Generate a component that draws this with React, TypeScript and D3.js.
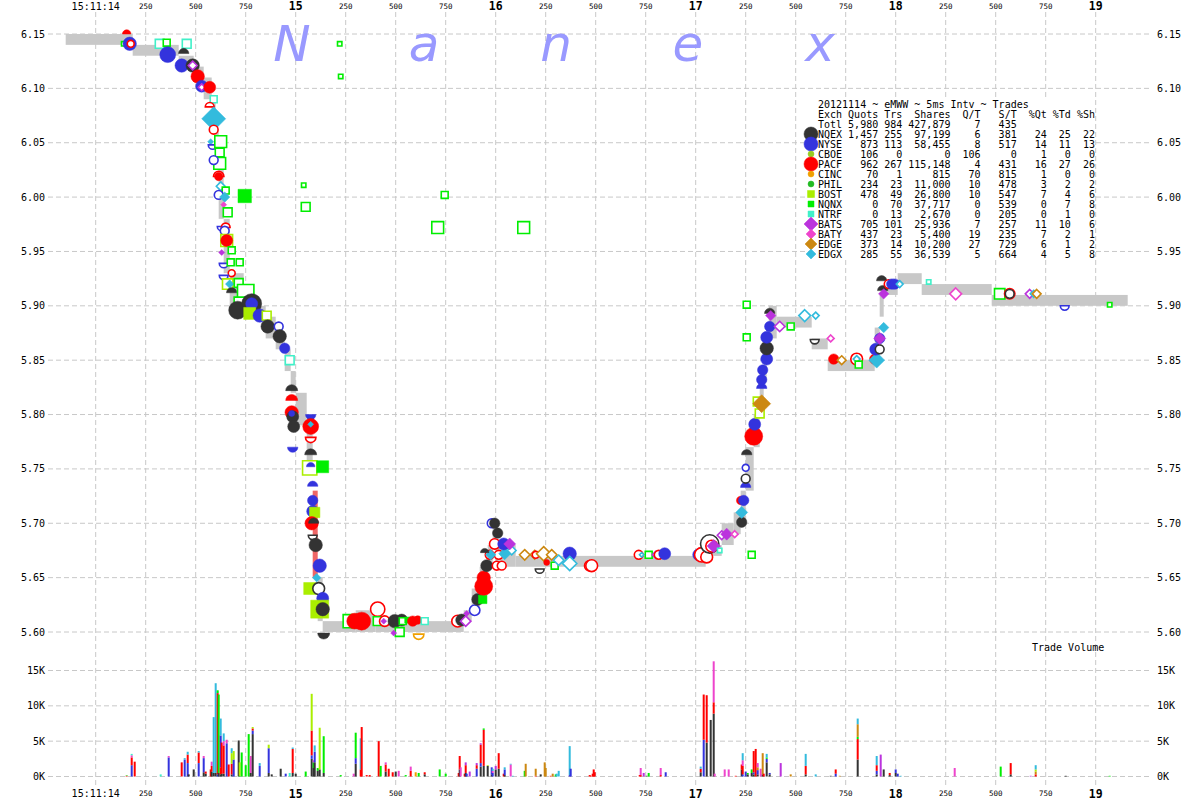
import * as d3 from 'd3'

// exchanges, in legend order
const exchanges = ['NQEX', 'NYSE', 'CBOE', 'PACF', 'CINC', 'PHIL', 'BOST', 'NQNX', 'NTRF', 'BATS', 'BATY', 'EDGE', 'EDGX']
const exchangeColors = ['#333333', '#3333dd', '#99cc22', '#ff0000', '#f0a000', '#22bb22', '#aaee00', '#00ee00', '#40f0c8', '#bb33dd', '#ee44cc', '#cc8811', '#33bbdd']
const exchangeShapes = ['circle', 'circle', 'dot', 'circle', 'dot', 'dot', 'square', 'square', 'square', 'diamond', 'diamond', 'diamond', 'diamond']
const legendMarkSize = [7, 7, 3, 7, 3, 3, 3.5, 3, 3, 7, 5, 6, 5]

// legend table
const legendQuotes = [1457, 873, 106, 962, 70, 234, 478, 0, 0, 705, 437, 373, 285]
const legendTrades = [255, 113, 0, 267, 1, 23, 49, 70, 13, 101, 23, 14, 55]
const legendShares = [97199, 58455, 0, 115148, 815, 11000, 26800, 37717, 2670, 25936, 5400, 10200, 36539]
const legendQT = [6, 8, 106, 4, 70, 10, 10, 0, 0, 7, 19, 27, 5]
const legendST = [381, 517, 0, 431, 815, 478, 547, 539, 205, 257, 235, 729, 664]
const legendPctQ = [24, 14, 1, 16, 1, 3, 7, 0, 0, 11, 7, 6, 4]
const legendPctT = [25, 11, 0, 27, 0, 2, 4, 7, 1, 10, 2, 1, 5]
const legendPctS = [22, 13, 0, 26, 0, 2, 6, 8, 0, 6, 1, 2, 8]
const totals = { quotes: 5980, trades: 984, shares: 427879, qt: 7, st: 435 }

// time axis: ms after 15:11:14.000
const timeTicks = d3.range(0, 5001, 250)

// NBBO spread steps: [ms, bid, ask]
const nbbo: [number, number, number][] = [
  [-150, 6.14, 6.15], [185, 6.13, 6.14], [415, 6.12, 6.13], [490, 6.11, 6.12], [540, 6.09, 6.11],
  [580, 6.07, 6.09], [600, 6.03, 6.06], [615, 5.98, 6.03], [640, 5.93, 5.98], [670, 5.9, 5.93],
  [740, 5.89, 5.9], [850, 5.87, 5.89], [900, 5.86, 5.87], [945, 5.84, 5.86], [975, 5.82, 5.84],
  [1000, 5.79, 5.82], [1055, 5.75, 5.79], [1085, 5.65, 5.73], [1110, 5.61, 5.65], [1135, 5.6, 5.61],
  [1300, 5.6, 5.62], [1400, 5.6, 5.61], [1840, 5.61, 5.62], [1880, 5.62, 5.64], [1920, 5.64, 5.66],
  [1960, 5.66, 5.68], [1985, 5.68, 5.7], [2000, 5.66, 5.68], [2100, 5.66, 5.67], [3050, 5.67, 5.68],
  [3130, 5.68, 5.7], [3190, 5.69, 5.71], [3225, 5.7, 5.73], [3250, 5.73, 5.77], [3290, 5.77, 5.8],
  [3320, 5.8, 5.83], [3340, 5.83, 5.86], [3355, 5.86, 5.87], [3365, 5.87, 5.9], [3405, 5.88, 5.89],
  [3580, 5.86, 5.87], [3660, 5.84, 5.85], [3895, 5.85, 5.88], [3920, 5.89, 5.91], [3940, 5.91, 5.92],
  [4010, 5.92, 5.93], [4130, 5.91, 5.92], [4480, 5.9, 5.91], [5160, 5.9, 5.91],
]
const crossedFrom = 1085

// trades: [exchange, ms, price, shares, condition]
// f filled, o hollow, u/U top half, d/D bottom half (upper case hollow)
const trades: [string, number, number, number, string][] = [
  ['PACF', 155, 6.15, 200, 'u'], ['NQNX', 140, 6.141, 100, 'o'], ['NYSE', 170, 6.141, 500, 'f'], ['PACF', 175, 6.141, 200, 'o'],
  ['NTRF', 320, 6.141, 300, 'o'], ['NQNX', 355, 6.142, 200, 'o'], ['NTRF', 455, 6.141, 300, 'o'], ['NYSE', 360, 6.131, 700, 'f'],
  ['NQEX', 440, 6.132, 300, 'u'], ['NYSE', 430, 6.121, 500, 'f'], ['NQEX', 485, 6.121, 500, 'f'], ['BATS', 485, 6.121, 300, 'o'],
  ['PACF', 510, 6.111, 500, 'f'], ['NYSE', 530, 6.102, 400, 'f'], ['BATS', 530, 6.101, 200, 'o'], ['PACF', 570, 6.101, 400, 'f'],
  ['NTRF', 590, 6.09, 200, 'o'], ['PACF', 570, 6.083, 300, 'U'], ['EDGX', 590, 6.072, 1600, 'f'], ['PACF', 590, 6.062, 300, 'o'],
  ['EDGX', 575, 6.051, 100, 'f'], ['NYSE', 585, 6.048, 300, 'D'], ['NQNX', 625, 6.051, 500, 'o'], ['NQNX', 620, 6.041, 300, 'o'],
  ['NQNX', 620, 6.031, 500, 'o'], ['NYSE', 590, 6.034, 300, 'o'], ['PACF', 615, 6.019, 400, 'U'], ['PACF', 615, 6.019, 200, 'f'],
  ['EDGX', 625, 6.01, 300, 'o'], ['NQNX', 650, 6.006, 200, 'o'], ['NYSE', 615, 6.002, 300, 'o'], ['EDGX', 645, 6.0, 300, 'f'],
  ['BATY', 640, 5.993, 100, 'f'], ['NQNX', 745, 6.001, 500, 'f'], ['NQNX', 660, 5.986, 300, 'o'], ['NYSE', 630, 5.973, 300, 'D'],
  ['PACF', 650, 5.972, 300, 'U'], ['NYSE', 645, 5.969, 300, 'o'], ['BOST', 655, 5.96, 500, 'o'], ['PACF', 655, 5.96, 400, 'f'],
  ['BATS', 630, 5.949, 100, 'f'], ['NQNX', 680, 5.951, 200, 'o'], ['NYSE', 640, 5.939, 300, 'D'], ['NQNX', 675, 5.94, 200, 'o'],
  ['NQNX', 720, 5.94, 200, 'o'], ['PACF', 680, 5.93, 200, 'o'], ['NYSE', 640, 5.928, 300, 'D'], ['BOST', 660, 5.92, 400, 'o'],
  ['EDGX', 670, 5.92, 200, 'f'], ['NQNX', 715, 5.921, 300, 'o'], ['NQEX', 680, 5.912, 300, 'u'], ['NQNX', 750, 5.912, 900, 'o'],
  ['NQNX', 725, 5.902, 600, 'o'], ['NQEX', 710, 5.896, 900, 'f'], ['NQEX', 780, 5.902, 1100, 'f'], ['NYSE', 780, 5.902, 400, 'f'],
  ['BOST', 770, 5.893, 400, 'f'], ['NYSE', 820, 5.891, 500, 'f'], ['BOST', 855, 5.891, 300, 'o'], ['NQEX', 860, 5.881, 500, 'f'],
  ['NYSE', 915, 5.881, 300, 'o'], ['NQEX', 920, 5.872, 500, 'f'], ['NYSE', 945, 5.861, 300, 'f'], ['NTRF', 970, 5.85, 300, 'o'],
  ['NQEX', 980, 5.822, 400, 'u'], ['PACF', 980, 5.813, 400, 'u'], ['PACF', 980, 5.802, 500, 'f'], ['NQEX', 985, 5.798, 400, 'f'],
  ['NYSE', 980, 5.801, 100, 'f'], ['NQEX', 990, 5.789, 400, 'f'], ['NYSE', 1075, 5.8, 300, 'd'], ['PACF', 1075, 5.789, 700, 'f'],
  ['EDGX', 1075, 5.791, 100, 'f'], ['PACF', 1075, 5.779, 400, 'D'], ['NYSE', 985, 5.77, 300, 'd'], ['NQEX', 1075, 5.763, 400, 'u'],
  ['BOST', 1070, 5.751, 700, 'o'], ['NYSE', 1075, 5.752, 200, 'u'], ['NQNX', 1135, 5.752, 400, 'f'], ['NYSE', 1085, 5.734, 300, 'u'],
  ['NYSE', 1085, 5.721, 300, 'f'], ['NYSE', 1085, 5.711, 400, 'f'], ['BOST', 1095, 5.71, 300, 'f'], ['PACF', 1080, 5.7, 500, 'f'],
  ['NQEX', 1090, 5.7, 300, 'u'], ['NQEX', 1085, 5.689, 300, 'D'], ['NQEX', 1100, 5.68, 500, 'f'], ['NYSE', 1120, 5.661, 500, 'f'],
  ['EDGX', 1105, 5.65, 200, 'f'], ['BOST', 1070, 5.64, 400, 'f'], ['NQEX', 1115, 5.64, 500, 'o'], ['NYSE', 1135, 5.631, 400, 'f'],
  ['BOST', 1120, 5.621, 900, 'f'], ['NQEX', 1135, 5.621, 500, 'f'], ['NQEX', 1140, 5.599, 400, 'd'], ['NQNX', 1270, 5.61, 600, 'o'],
  ['PACF', 1295, 5.61, 700, 'f'], ['PACF', 1330, 5.61, 900, 'f'], ['PACF', 1410, 5.621, 700, 'o'], ['NQNX', 1410, 5.61, 300, 'o'],
  ['PACF', 1445, 5.61, 400, 'o'], ['BATS', 1440, 5.61, 100, 'f'], ['NQEX', 1495, 5.61, 500, 'f'], ['NQEX', 1530, 5.611, 400, 'f'],
  ['NQNX', 1535, 5.61, 200, 'o'], ['NQNX', 1560, 5.611, 100, 'f'], ['PACF', 1585, 5.61, 300, 'f'], ['PACF', 1610, 5.611, 200, 'f'],
  ['NTRF', 1645, 5.61, 200, 'o'], ['NQNX', 1520, 5.6, 300, 'o'], ['CINC', 1615, 5.598, 400, 'D'], ['BATS', 1490, 5.599, 100, 'f'],
  ['PACF', 1810, 5.61, 500, 'o'], ['NQEX', 1830, 5.611, 400, 'f'], ['BATS', 1850, 5.61, 400, 'o'], ['NYSE', 1895, 5.62, 400, 'o'],
  ['BATS', 1855, 5.617, 100, 'f'], ['NQEX', 1910, 5.63, 400, 'f'], ['NQNX', 1935, 5.63, 200, 'f'], ['PACF', 1940, 5.642, 900, 'f'],
  ['PACF', 1940, 5.65, 500, 'f'], ['NQEX', 1955, 5.661, 400, 'f'], ['PACF', 2005, 5.661, 300, 'o'], ['PACF', 2030, 5.661, 300, 'o'],
  ['PACF', 1970, 5.671, 300, 'o'], ['PACF', 2015, 5.671, 300, 'o'], ['EDGX', 1975, 5.671, 300, 'f'], ['EDGX', 2045, 5.672, 400, 'f'],
  ['EDGX', 2080, 5.675, 300, 'o'], ['NQEX', 1945, 5.673, 200, 'u'], ['PACF', 1995, 5.681, 400, 'o'], ['NYSE', 2040, 5.681, 400, 'f'],
  ['BATS', 2070, 5.681, 400, 'f'], ['NQEX', 2010, 5.691, 300, 'f'], ['NYSE', 1980, 5.7, 300, 'o'], ['NQEX', 1995, 5.7, 300, 'f'],
  ['EDGE', 2145, 5.671, 400, 'o'], ['EDGE', 2195, 5.671, 300, 'o'], ['PACF', 2200, 5.671, 200, 'o'], ['EDGE', 2240, 5.672, 700, 'o'],
  ['EDGE', 2280, 5.671, 400, 'o'], ['NQEX', 2220, 5.658, 300, 'D'], ['PACF', 2255, 5.664, 100, 'f'], ['NQNX', 2295, 5.661, 200, 'o'],
  ['EDGX', 2315, 5.666, 400, 'o'], ['NYSE', 2370, 5.672, 500, 'f'], ['EDGX', 2370, 5.663, 700, 'o'], ['PACF', 2470, 5.661, 400, 'o'],
  ['PACF', 2480, 5.661, 500, 'o'], ['PACF', 2715, 5.671, 300, 'o'], ['EDGX', 2730, 5.671, 100, 'o'], ['NQNX', 2765, 5.671, 200, 'o'],
  ['BATS', 2800, 5.671, 200, 'o'], ['PACF', 2815, 5.671, 300, 'o'], ['NYSE', 2845, 5.672, 400, 'f'], ['NYSE', 3015, 5.671, 400, 'f'],
  ['PACF', 3020, 5.672, 300, 'f'], ['PACF', 3030, 5.671, 700, 'o'], ['PACF', 3055, 5.669, 500, 'o'], ['NQEX', 3070, 5.681, 1100, 'o'],
  ['PACF', 3080, 5.679, 500, 'o'], ['BATS', 3090, 5.679, 500, 'f'], ['NTRF', 3120, 5.675, 100, 'o'], ['BATS', 3130, 5.689, 300, 'o'],
  ['BATS', 3155, 5.69, 400, 'f'], ['BATY', 3195, 5.69, 200, 'o'], ['NQEX', 3230, 5.701, 300, 'f'], ['EDGX', 3230, 5.71, 400, 'f'],
  ['NQNX', 3280, 5.671, 200, 'o'], ['PACF', 3225, 5.721, 200, 'f'], ['NYSE', 3240, 5.721, 300, 'f'], ['NYSE', 3250, 5.733, 300, 'u'],
  ['NQEX', 3250, 5.741, 300, 'o'], ['NYSE', 3250, 5.751, 200, 'o'], ['NQEX', 3255, 5.763, 300, 'u'], ['PACF', 3290, 5.78, 900, 'f'],
  ['NYSE', 3295, 5.791, 400, 'f'], ['BOST', 3310, 5.812, 300, 'o'], ['BOST', 3320, 5.801, 300, 'o'], ['EDGE', 3330, 5.81, 900, 'f'],
  ['NYSE', 3330, 5.824, 300, 'u'], ['NYSE', 3330, 5.832, 300, 'f'], ['NYSE', 3335, 5.841, 300, 'f'], ['NYSE', 3355, 5.851, 400, 'f'],
  ['NQEX', 3355, 5.861, 500, 'f'], ['NYSE', 3355, 5.871, 400, 'f'], ['NYSE', 3370, 5.881, 300, 'f'], ['BATS', 3420, 5.881, 400, 'o'],
  ['NQNX', 3475, 5.881, 200, 'o'], ['NQEX', 3370, 5.893, 300, 'u'], ['BATS', 3375, 5.891, 300, 'f'], ['NQNX', 3255, 5.901, 200, 'o'],
  ['NQNX', 3255, 5.871, 200, 'o'], ['EDGX', 3545, 5.891, 500, 'o'], ['EDGX', 3600, 5.891, 200, 'o'], ['NQEX', 3595, 5.869, 300, 'D'],
  ['BATY', 3675, 5.87, 200, 'o'], ['PACF', 3690, 5.851, 300, 'f'], ['EDGE', 3730, 5.85, 300, 'o'], ['PACF', 3805, 5.851, 500, 'o'],
  ['EDGX', 3805, 5.851, 200, 'o'], ['NQNX', 3815, 5.846, 200, 'o'], ['PACF', 3895, 5.851, 300, 'f'], ['EDGX', 3905, 5.85, 700, 'f'],
  ['NYSE', 3900, 5.86, 400, 'f'], ['NQEX', 3920, 5.86, 300, 'o'], ['NYSE', 3920, 5.87, 300, 'f'], ['BATS', 3920, 5.87, 400, 'f'],
  ['EDGX', 3940, 5.88, 300, 'f'], ['NQEX', 3935, 5.914, 300, 'u'], ['BATS', 3940, 5.911, 300, 'f'], ['NQEX', 3930, 5.923, 300, 'u'],
  ['PACF', 3965, 5.92, 300, 'o'], ['NYSE', 3980, 5.92, 300, 'f'], ['NYSE', 3995, 5.92, 300, 'f'], ['EDGX', 4020, 5.92, 200, 'o'],
  ['NTRF', 4165, 5.922, 100, 'o'], ['BATY', 4300, 5.911, 500, 'o'], ['NQNX', 4520, 5.911, 400, 'o'], ['PACF', 4570, 5.911, 400, 'o'],
  ['NQEX', 4570, 5.911, 300, 'o'], ['BATS', 4670, 5.911, 300, 'o'], ['EDGX', 4690, 5.911, 200, 'o'], ['EDGE', 4705, 5.911, 300, 'o'],
  ['NYSE', 4845, 5.9, 300, 'D'], ['NQNX', 5070, 5.901, 100, 'o'], ['NQNX', 1220, 6.141, 100, 'o'], ['NQNX', 1225, 6.111, 100, 'o'],
  ['NQNX', 1040, 6.011, 100, 'o'], ['NQNX', 1050, 5.991, 300, 'o'], ['NQNX', 1745, 6.002, 200, 'o'], ['NQNX', 1710, 5.972, 500, 'o'],
  ['NQNX', 2140, 5.972, 500, 'o'],
]

// trade volume per 5ms interval: [ms, exchange, shares]
const volumeRows: [number, string, number][] = [
  [155, 'PACF', 100], [155, 'NQNX', 50], [180, 'NYSE', 1600], [180, 'PACF', 1100], [180, 'BATY', 300], [180, 'NTRF', 200],
  [195, 'PACF', 2100], [325, 'NTRF', 300], [365, 'NYSE', 2700], [365, 'BATY', 200], [430, 'PACF', 2000], [445, 'NYSE', 2400],
  [445, 'EDGX', 200], [460, 'NYSE', 1900], [460, 'PACF', 1200], [460, 'EDGX', 400], [465, 'NQEX', 300], [490, 'NQEX', 1000],
  [515, 'NYSE', 1900], [515, 'PACF', 1500], [515, 'EDGX', 200], [540, 'NQEX', 600], [540, 'NYSE', 2000], [540, 'BATY', 300],
  [550, 'NQEX', 400], [550, 'PACF', 300], [575, 'PACF', 1000], [580, 'NQEX', 700], [580, 'PACF', 800], [580, 'BATY', 600],
  [590, 'NQEX', 500], [590, 'EDGX', 7900], [600, 'NQEX', 500], [600, 'EDGX', 12700], [610, 'NYSE', 300], [610, 'PACF', 11500],
  [610, 'NQNX', 400], [615, 'NQEX', 500], [615, 'NQNX', 11100], [625, 'NQEX', 300], [625, 'PACF', 1000], [625, 'NYSE', 4500],
  [625, 'EDGX', 2400], [630, 'NQEX', 400], [630, 'PACF', 4400], [640, 'NQEX', 400], [640, 'PACF', 4000], [640, 'BATY', 600],
  [640, 'EDGX', 1100], [655, 'NYSE', 4700], [655, 'BATY', 500], [665, 'PACF', 1700], [680, 'NQEX', 300], [680, 'PACF', 1500],
  [680, 'BOST', 1500], [680, 'EDGX', 700], [690, 'NYSE', 2400], [690, 'BOST', 1200], [715, 'NQEX', 5100], [720, 'NQNX', 100],
  [720, 'BOST', 1900], [730, 'NQNX', 3400], [750, 'NQNX', 1600], [765, 'NQNX', 6000], [775, 'NQEX', 500], [775, 'BATY', 2400],
  [785, 'NQEX', 6000], [785, 'NYSE', 500], [785, 'PACF', 300], [785, 'BOST', 200], [820, 'NYSE', 1500], [820, 'EDGX', 400],
  [865, 'NQEX', 500], [865, 'NYSE', 3500], [865, 'BOST', 500], [880, 'NQEX', 300], [925, 'NQEX', 1100], [950, 'NYSE', 400],
  [970, 'NTRF', 500], [985, 'NQEX', 500], [985, 'PACF', 3400], [985, 'EDGX', 200], [1000, 'NQEX', 400], [1050, 'NQNX', 700],
  [1080, 'NQEX', 2500], [1080, 'NYSE', 500], [1080, 'PACF', 3500], [1080, 'BOST', 5200], [1090, 'NQEX', 1200], [1090, 'NQNX', 800],
  [1090, 'BATY', 300], [1095, 'NQEX', 2000], [1095, 'NYSE', 1500], [1095, 'EDGX', 900], [1110, 'NQEX', 800], [1110, 'NQNX', 400],
  [1120, 'NQEX', 1000], [1120, 'BOST', 5900], [1140, 'NQEX', 500], [1140, 'NQNX', 5200], [1225, 'NQNX', 200], [1290, 'BATY', 400],
  [1300, 'NQEX', 1800], [1300, 'NYSE', 800], [1300, 'NQNX', 3600], [1325, 'PACF', 1000], [1325, 'EDGX', 4400], [1330, 'PACF', 7000],
  [1355, 'PACF', 200], [1370, 'PACF', 200], [1415, 'PACF', 5000], [1425, 'NQNX', 1500], [1450, 'NQEX', 700], [1450, 'PACF', 1000],
  [1450, 'BATY', 300], [1465, 'PACF', 1100], [1485, 'PACF', 600], [1500, 'NQEX', 700], [1515, 'BATY', 800], [1550, 'NQNX', 200],
  [1575, 'PACF', 800], [1575, 'BATY', 600], [1600, 'CINC', 600], [1615, 'NQNX', 500], [1645, 'NQEX', 300], [1645, 'PACF', 300],
  [1720, 'NQNX', 1000], [1750, 'NQNX', 400], [1815, 'PACF', 500], [1820, 'NQEX', 1000], [1820, 'PACF', 1900], [1825, 'BATY', 1300],
  [1845, 'PACF', 400], [1850, 'NQEX', 500], [1850, 'PACF', 1100], [1850, 'BATS', 400], [1855, 'NYSE', 400], [1870, 'BATS', 700],
  [1905, 'NYSE', 1100], [1905, 'PACF', 500], [1905, 'BATS', 300], [1925, 'NQEX', 1400], [1925, 'NYSE', 500], [1925, 'PACF', 2600],
  [1925, 'BATS', 200], [1940, 'NQEX', 1500], [1940, 'PACF', 5100], [1940, 'NQNX', 200], [1960, 'NQEX', 1500], [1960, 'BOST', 100],
  [1980, 'NQEX', 300], [1980, 'NYSE', 1000], [1985, 'NYSE', 500], [1985, 'BATY', 300], [1985, 'EDGX', 300], [2000, 'NQEX', 1000],
  [2000, 'BATS', 500], [2015, 'NQEX', 1100], [2015, 'PACF', 2200], [2040, 'PACF', 400], [2045, 'NQEX', 200], [2045, 'NYSE', 800],
  [2045, 'EDGX', 300], [2075, 'BATY', 1700], [2075, 'EDGX', 100], [2085, 'EDGX', 100], [2145, 'NQNX', 800], [2150, 'EDGE', 1800],
  [2200, 'PACF', 100], [2200, 'EDGE', 1000], [2225, 'NQEX', 300], [2245, 'EDGE', 2000], [2250, 'EDGE', 1200], [2275, 'PACF', 100],
  [2285, 'EDGE', 400], [2300, 'NQNX', 300], [2305, 'EDGX', 400], [2315, 'EDGX', 800], [2370, 'NYSE', 200], [2370, 'EDGX', 4100],
  [2375, 'NYSE', 1100], [2470, 'PACF', 200], [2475, 'PACF', 100], [2485, 'PACF', 400], [2490, 'PACF', 1000], [2495, 'PACF', 600],
  [2720, 'PACF', 200], [2725, 'PACF', 200], [2725, 'BATY', 1000], [2740, 'BATS', 500], [2755, 'NQEX', 100], [2765, 'NQNX', 500],
  [2825, 'PACF', 200], [2825, 'BATY', 1000], [2850, 'NYSE', 600], [3025, 'NQEX', 600], [3025, 'PACF', 500], [3025, 'EDGX', 300],
  [3040, 'NYSE', 5200], [3040, 'PACF', 6400], [3055, 'NQEX', 4800], [3055, 'PACF', 6700], [3075, 'NQEX', 8000], [3090, 'NQEX', 8900],
  [3090, 'PACF', 1600], [3090, 'BATY', 5800], [3095, 'BATY', 400], [3145, 'BATY', 1000], [3165, 'BATY', 1000], [3200, 'PACF', 100],
  [3230, 'NQEX', 1000], [3230, 'PACF', 700], [3235, 'NYSE', 300], [3235, 'PACF', 1200], [3235, 'BATY', 800], [3235, 'EDGX', 1000],
  [3250, 'NYSE', 700], [3260, 'NQEX', 300], [3260, 'NQNX', 200], [3280, 'NQEX', 500], [3280, 'NQNX', 500], [3290, 'NQEX', 300],
  [3290, 'NYSE', 300], [3290, 'PACF', 3000], [3300, 'PACF', 3900], [3310, 'NQEX', 300], [3310, 'NYSE', 600], [3310, 'EDGE', 400],
  [3310, 'BATY', 600], [3325, 'BATY', 1100], [3335, 'NQEX', 300], [3335, 'EDGE', 3000], [3340, 'PACF', 400], [3355, 'NQEX', 2000],
  [3355, 'NYSE', 500], [3355, 'NQNX', 200], [3355, 'EDGX', 500], [3370, 'NQEX', 300], [3370, 'NYSE', 200], [3425, 'BATS', 1900],
  [3475, 'EDGE', 300], [3550, 'NQEX', 300], [3550, 'PACF', 1200], [3550, 'EDGX', 1700], [3600, 'EDGX', 300], [3675, 'NQEX', 100],
  [3700, 'NYSE', 400], [3700, 'PACF', 600], [3720, 'EDGE', 100], [3810, 'NQEX', 2400], [3810, 'PACF', 2900], [3810, 'NQNX', 300],
  [3810, 'EDGE', 1800], [3810, 'EDGX', 800], [3905, 'NQEX', 300], [3905, 'NYSE', 500], [3905, 'PACF', 800], [3905, 'EDGX', 1300],
  [3925, 'BATS', 3100], [3940, 'NQEX', 1000], [3970, 'NQEX', 200], [3970, 'PACF', 300], [4000, 'NQEX', 500], [4000, 'NYSE', 500],
  [4010, 'NYSE', 400], [4025, 'EDGX', 100], [4295, 'BATY', 1200], [4525, 'NQNX', 1400], [4575, 'NQEX', 300], [4575, 'PACF', 1600],
  [4675, 'BATS', 100], [4700, 'PACF', 300], [4700, 'EDGE', 400], [4700, 'BOST', 300], [4700, 'EDGX', 600], [4850, 'NQEX', 100],
  [5070, 'NQNX', 100],
]

const watermark = ['N', 'a', 'n', 'e', 'x']

const mono = 'DejaVu Sans Mono'
const gridColor = '#c8c8c8'

const x = d3.scaleLinear([0, 5000], [95.7, 1095.7])
const yPrice = d3.scaleLinear([5.6, 6.15], [632, 34])
const yVol = d3.scaleLinear([0, 15000], [776.5, 670.5])
const rSize = d3.scaleSqrt([0, 1600], [0, 12])

function markPath(shape: string, cond: string, cx: number, cy: number, r: number) {
  if (cond === 'u' || cond === 'U') return `M${cx - r},${cy}A${r},${r} 0 0 1 ${cx + r},${cy}Z`
  if (cond === 'd' || cond === 'D') return `M${cx - r},${cy}A${r},${r} 0 0 0 ${cx + r},${cy}Z`
  if (shape === 'square') return `M${cx - r},${cy - r}h${2 * r}v${2 * r}h${-2 * r}Z`
  if (shape === 'diamond') return `M${cx},${cy - r}L${cx + r},${cy}L${cx},${cy + r}L${cx - r},${cy}Z`
  return `M${cx - r},${cy}a${r},${r} 0 1 0 ${2 * r},0a${r},${r} 0 1 0 ${-2 * r},0Z`
}

function Mark({ ex, cx, cy, r, cond }: { ex: string; cx: number; cy: number; r: number; cond: string }) {
  const i = exchanges.indexOf(ex)
  const color = exchangeColors[i]
  const hollow = cond === 'o' || cond === 'U' || cond === 'D'
  const rr = hollow ? Math.max(r - 0.8, 2) : r
  return (
    <path
      d={markPath(exchangeShapes[i], cond, cx, cy, rr)}
      fill={hollow ? '#ffffff' : color}
      stroke={color}
      strokeWidth={hollow ? 1.6 : 0.5}
    />
  )
}

// fixed-width columns, right aligned like the source table
function legendRow(name: string, cols: (string | number)[]) {
  const widths = [6, 4, 8, 5, 6, 5, 4, 4]
  return name.padEnd(4) + cols.map((c, i) => String(c).padStart(widths[i])).join('')
}

export default function App() {
  const fmt = d3.format(',')
  const volStacks = d3.groups(volumeRows, (d) => d[0])
  const priceTicks = yPrice.ticks(11)
  const volTicks = yVol.ticks(3)

  const legendLines = [
    '20121114 ~ eMWW ~ 5ms Intv ~ Trades',
    legendRow('Exch', ['Quots', 'Trs', 'Shares', 'Q/T', 'S/T', '%Qt', '%Td', '%Sh']),
    legendRow('Totl', [fmt(totals.quotes), totals.trades, fmt(totals.shares), totals.qt, totals.st, '', '', '']).trimEnd(),
    ...exchanges.map((ex, i) =>
      legendRow(ex, [fmt(legendQuotes[i]), legendTrades[i], fmt(legendShares[i]), legendQT[i], legendST[i], legendPctQ[i], legendPctT[i], legendPctS[i]]),
    ),
  ].map((s) => s.replace(/ /g, '\u00a0'))

  return (
    <svg width={1200} height={800} style={{ position: 'absolute', left: 0, top: 0, background: '#fff' }}>
      <rect width={1200} height={800} fill="#fff" />

      {/* grid */}
      <g stroke={gridColor} strokeDasharray="5,3" strokeWidth={1}>
        {timeTicks.map((t) => (
          <line key={t} x1={x(t)} x2={x(t)} y1={12} y2={786} />
        ))}
        {priceTicks.map((p) => (
          <line key={p} x1={48} x2={1150} y1={yPrice(p)} y2={yPrice(p)} />
        ))}
        {volTicks.map((v) => (
          <line key={v} x1={48} x2={1150} y1={yVol(v)} y2={yVol(v)} />
        ))}
      </g>

      {/* watermark */}
      <g fill="#9999ff" fontFamily="DejaVu Sans" fontStyle="italic" fontSize={50} textAnchor="middle">
        {watermark.map((ch, i) => (
          <text key={i} x={292 + i * 132} y={61}>
            {ch}
          </text>
        ))}
      </g>

      {/* NBBO spread */}
      <g>
        {nbbo.slice(0, -1).map((s, i) => {
          const x0 = x(s[0])
          const x1 = x(nbbo[i + 1][0])
          return (
            <rect
              key={i}
              x={x0}
              y={yPrice(s[2])}
              width={Math.max(x1 - x0, 1.5)}
              height={yPrice(s[1]) - yPrice(s[2])}
              fill={s[0] === crossedFrom ? '#ee6666' : '#c8c8c8'}
            />
          )
        })}
      </g>

      {/* volume bars */}
      <g>
        {volStacks.map(([ms, rows]) => {
          let acc = 0
          return rows.map((r, j) => {
            const y0 = yVol(acc)
            acc += r[2]
            const y1 = yVol(acc)
            return (
              <rect key={ms + '-' + j} x={x(ms) - 1} y={y1} width={2} height={Math.max(y0 - y1, 0.5)}
                fill={exchangeColors[exchanges.indexOf(r[1])]} />
            )
          })
        })}
      </g>

      {/* trades */}
      <g>
        {trades.map((t, i) => (
          <Mark key={i} ex={t[0]} cx={x(t[1])} cy={yPrice(t[2])} r={rSize(t[3])} cond={t[4]} />
        ))}
      </g>

      {/* legend */}
      <rect x={816} y={98} width={277} height={162} fill="#fff" />
      <g fontFamily={mono} fontSize={10} fill="#000">
        {legendLines.map((line, i) => (
          <text key={i} x={818} y={108 + i * 10}>
            {line}
          </text>
        ))}
      </g>
      <g>
        {exchanges.map((ex, i) => (
          <Mark key={ex} ex={ex} cx={811} cy={134 + i * 10} r={legendMarkSize[i]} cond="f" />
        ))}
      </g>
      <text x={1032} y={651} fontFamily={mono} fontSize={10}>
        Trade Volume
      </text>

      {/* axis labels */}
      <g fontFamily={mono} fontSize={10} fill="#000">
        {priceTicks.map((p) => (
          <g key={p}>
            <text x={45} y={yPrice(p) + 3.5} textAnchor="end">
              {d3.format('.2f')(p)}
            </text>
            <text x={1157} y={yPrice(p) + 3.5}>
              {d3.format('.2f')(p)}
            </text>
          </g>
        ))}
        {volTicks.map((v) => (
          <g key={v}>
            <text x={45} y={yVol(v) + 3.5} textAnchor="end">
              {v / 1000 + 'K'}
            </text>
            <text x={1157} y={yVol(v) + 3.5}>
              {v / 1000 + 'K'}
            </text>
          </g>
        ))}
      </g>
      <g fontFamily={mono} textAnchor="middle" fill="#000">
        {timeTicks.map((t) => {
          const first = t === 0
          const sec = t % 1000 === 0
          const label = first ? '15:11:14' : sec ? String(14 + t / 1000) : String(t % 1000)
          const size = first ? 10 : sec ? 11.5 : 7.5
          const weight = sec && !first ? 'bold' : 'normal'
          return (
            <g key={t}>
              <text x={x(t)} y={first ? 9.5 : sec ? 10 : 9} fontSize={size} fontWeight={weight}>
                {label}
              </text>
              <text x={x(t)} y={first ? 797 : sec ? 798 : 796} fontSize={size} fontWeight={weight}>
                {label}
              </text>
            </g>
          )
        })}
      </g>
    </svg>
  )
}
